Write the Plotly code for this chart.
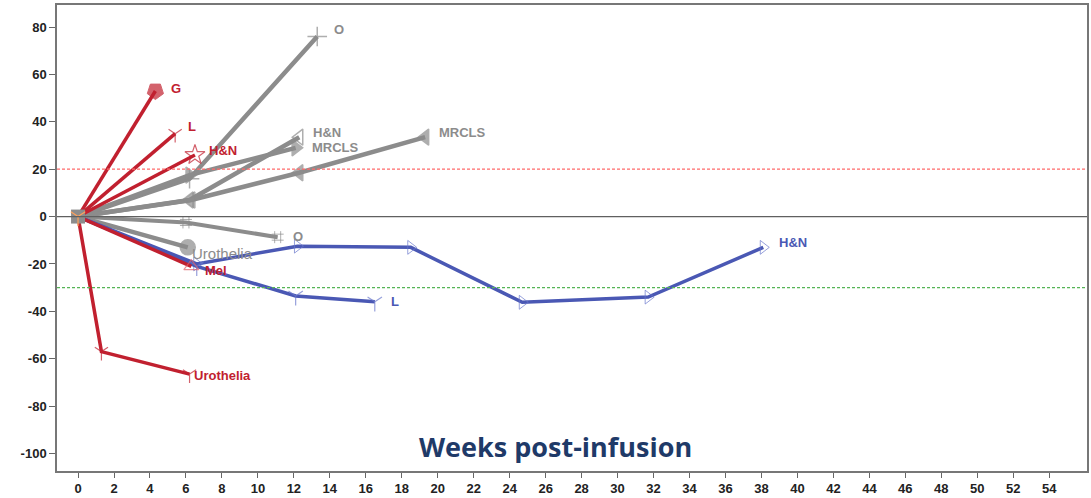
import plotly.graph_objects as go

# Percent change in tumour burden by week after infusion, per patient
g_red_wk = [0, 4.3];               g_red_pct = [0, 53]
l_red_wk = [0, 5.4];               l_red_pct = [0, 35]
hn_red_wk = [0, 6.5];              hn_red_pct = [0, 26]
mel_red_wk = [0, 6.3];             mel_red_pct = [0, -21]
uro_red_wk = [0, 1.3, 6.2];        uro_red_pct = [0, -57, -66.5]

o_gray_wk = [0, 6.2, 13.3];        o_gray_pct = [0, 16, 76]
hn_gray_wk = [0, 6.2, 12.3];       hn_gray_pct = [0, 7, 33.5]
mrcls_a_wk = [0, 6.2, 12.1];       mrcls_a_pct = [0, 17.5, 29]
mrcls_b_wk = [0, 6.3, 12.3, 19.3]; mrcls_b_pct = [0, 7, 18.5, 33.5]
o2_gray_wk = [0, 6.0, 11.1];       o2_gray_pct = [0, -2.5, -8.7]
uro_gray_wk = [0, 6.1];            uro_gray_pct = [0, -13]

hn_blue_wk = [0, 6.6, 12.2, 18.5, 24.7, 31.7, 38.1]
hn_blue_pct = [0, -20, -12.5, -13, -36.2, -34, -13]
l_blue_wk = [0, 6.6, 12.1, 16.5]
l_blue_pct = [0, -21, -33.5, -36]

x_ticks = list(range(0, 55, 2))
y_ticks = list(range(-100, 81, 20))
y_tick_text = [str(v) for v in y_ticks]   # plain hyphen for negatives

RED = "#C1202F"
GRAY = "#8C8C8C"
BLUE = "#4A58B4"
BLUE_MK = "#6A78CC"

fig = go.Figure()

# reference lines: +20% progression, -30% response, baseline
fig.add_hline(y=20, line=dict(color="#FF6A6A", width=1.3, dash="3px,2px"))
fig.add_hline(y=-30, line=dict(color="#55B455", width=1.3, dash="3px,2px"))
fig.add_hline(y=0, line=dict(color="#606060", width=1.2))


def series(wk, pct, color, width, symbol, msize, mcolor=None, mline=1.5):
    n = len(wk)
    sizes = [0] + [msize] * (n - 1)
    fig.add_trace(go.Scatter(
        x=wk, y=pct, mode="lines+markers",
        line=dict(color=color, width=width),
        marker=dict(symbol=symbol, size=sizes, color=mcolor or color,
                    line=dict(color=mcolor or color, width=mline)),
        showlegend=False, hoverinfo="skip"))


def label(wk, pct, text, color, dx=10, dy=0, bold=True, size=13):
    fig.add_annotation(
        x=wk[-1], y=pct[-1], text=text, showarrow=False,
        xanchor="left", yanchor="middle", xshift=dx, yshift=dy,
        font=dict(family="Liberation Sans, Arial", size=size, color=color,
                  weight="bold" if bold else "normal"))


# grey patients
series(o_gray_wk, o_gray_pct, GRAY, 4.5, "cross-thin-open", 14)
series(hn_gray_wk, hn_gray_pct, GRAY, 4.5, "triangle-left-open", 14)
series(mrcls_a_wk, mrcls_a_pct, GRAY, 4.5, "triangle-right", 14)
series(mrcls_b_wk, mrcls_b_pct, GRAY, 4.5, "triangle-left", 14)
series(o2_gray_wk, o2_gray_pct, GRAY, 4, "hash-open", 12, mline=1)
series(uro_gray_wk, uro_gray_pct, GRAY, 4.5, "circle", 15)

# blue patients
series(hn_blue_wk, hn_blue_pct, BLUE, 3.5, "triangle-right-open", 12, BLUE_MK, 1)
series(l_blue_wk, l_blue_pct, BLUE, 3.5, "y-down-open", 12, BLUE_MK, 1.2)

# red patients
series(g_red_wk, g_red_pct, RED, 3.5, "pentagon", 17, mline=1)
fig.data[-1].marker.angle = 180
series(l_red_wk, l_red_pct, RED, 3.5, "y-down-open", 11, mline=1.2)
series(hn_red_wk, hn_red_pct, RED, 3.5, "star-open", 15, mline=1.2)
series(mel_red_wk, mel_red_pct, RED, 3.5, "triangle-up-open", 13, "#E0606A", 1.2)
series(uro_red_wk, uro_red_pct, RED, 3.5, "y-down-open", 11, mline=1.2)

# baseline marker shared by all patients
fig.add_trace(go.Scatter(x=[0], y=[0], mode="markers",
                         marker=dict(symbol="square", size=14, color=GRAY),
                         showlegend=False, hoverinfo="skip"))
fig.add_trace(go.Scatter(x=[0], y=[0], mode="markers",
                         marker=dict(symbol="y-down-open", size=12,
                                     line=dict(color="#D06070", width=1.2)),
                         showlegend=False, hoverinfo="skip"))

label(g_red_wk, g_red_pct, "G", RED, 14, 3)
label(l_red_wk, l_red_pct, "L", RED, 11, 7)
label(hn_red_wk, hn_red_pct, "H&N", RED, 12, 4)
label(mel_red_wk, mel_red_pct, "Mel", RED, 12, -4)
label(uro_red_wk, uro_red_pct, "Urothelia", RED, 2, -1)
label(o_gray_wk, o_gray_pct, "O", GRAY, 15, 7)
label(hn_gray_wk, hn_gray_pct, "H&N", GRAY, 12, 5)
label(mrcls_a_wk, mrcls_a_pct, "MRCLS", GRAY, 14, 0)
label(mrcls_b_wk, mrcls_b_pct, "MRCLS", GRAY, 12, 5)
label(o2_gray_wk, o2_gray_pct, "O", GRAY, 13, 1)
label(uro_gray_wk, uro_gray_pct, "Urothelia", GRAY, 2, -6, bold=False, size=15)
label(l_blue_wk, l_blue_pct, "L", BLUE, 14, 0)
label(hn_blue_wk, hn_blue_pct, "H&N", BLUE, 14, 5)

fig.add_annotation(
    x=0.484, y=0.052, xref="paper", yref="paper", text="<b>Weeks post-infusion</b>",
    showarrow=False, xanchor="center", yanchor="middle",
    font=dict(family="Open Sans, Noto Sans", size=27, color="#1F3A68"))

tick_font = dict(family="Liberation Sans, Arial", size=13, color="#222", weight="bold")
fig.update_xaxes(range=[-1.17, 56.1], tickvals=x_ticks, ticks="outside", ticklen=5,
                 tickcolor="#666", showgrid=False, zeroline=False, showline=True,
                 linecolor="#777", linewidth=1.5, mirror=True, tickfont=tick_font,
                 ticklabelstandoff=0, automargin=False)
fig.update_yaxes(range=[-107.4, 89.3], tickvals=y_ticks, ticktext=y_tick_text,
                 ticks="outside", ticklen=6,
                 tickcolor="#666", showgrid=False, zeroline=False, showline=True,
                 linecolor="#777", linewidth=1.5, mirror=True, tickfont=tick_font,
                 automargin=False)

fig.update_layout(width=1091, height=498, margin=dict(l=57, r=4, t=5, b=27),
                  paper_bgcolor="white", plot_bgcolor="white")

fig.write_html("out.html")
